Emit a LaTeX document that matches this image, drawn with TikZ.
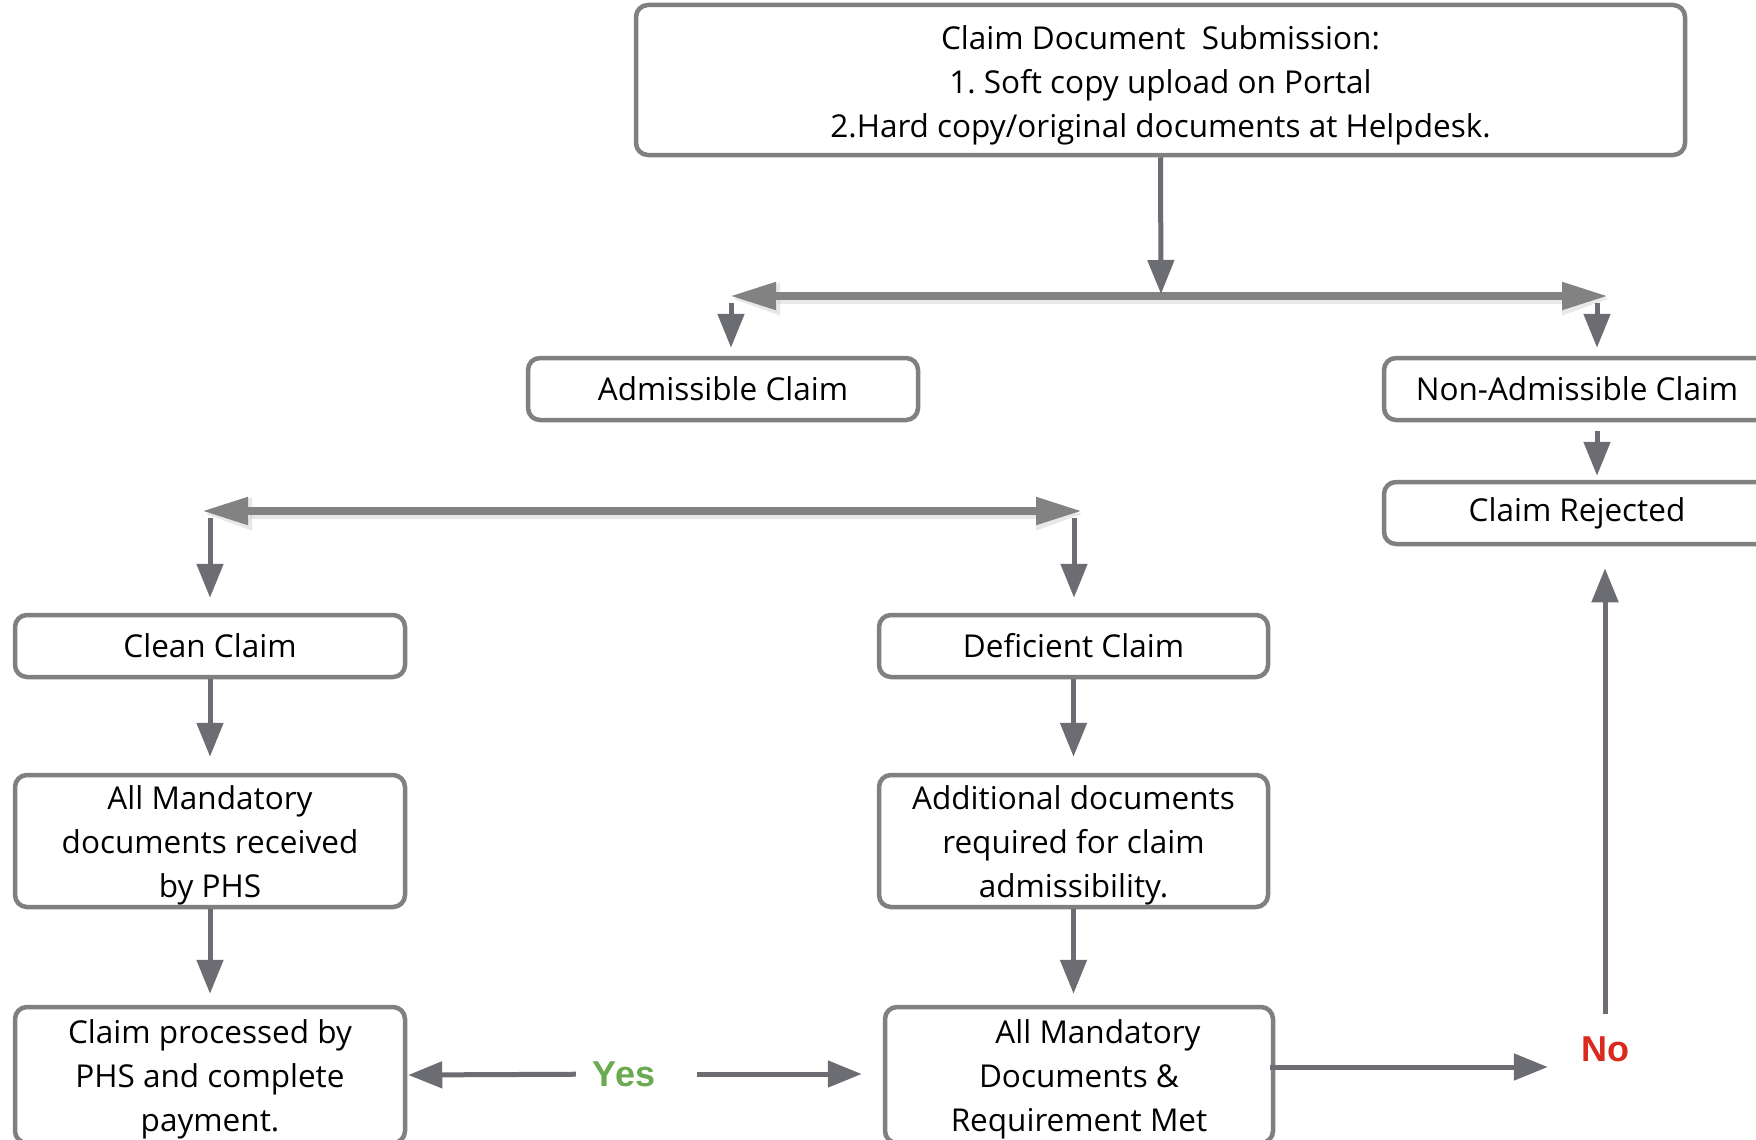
\documentclass[tikz,border=0pt]{standalone}
\usepackage{fontspec}
\setmainfont{Open Sans}
\newfontfamily\labelfont{Liberation Sans}
\usetikzlibrary{arrows.meta}
\definecolor{boxgray}{RGB}{128,128,128}
\definecolor{arrgray}{RGB}{108,109,114}
\definecolor{bargray}{RGB}{130,130,130}
\definecolor{yesgreen}{RGB}{106,170,80}
\definecolor{nored}{RGB}{218,42,30}
\newcommand{\mystrut}[1]{\rule{0pt}{#1}}
\begin{document}
\begin{tikzpicture}[x=1pt,y=-1pt,
  box/.style={draw=boxgray, line width=4.5pt, rounded corners=12pt, fill=white,
    align=center, inner sep=0pt, text=black,
    font=\fontsize{31.5pt}{44pt}\selectfont},
  conn/.style={draw=arrgray, line width=5pt, -{Triangle[width=26pt,length=34pt]}},
  bar/.style={draw=bargray, line width=8pt,
    {Triangle[width=26pt,length=46pt]}-{Triangle[width=26pt,length=46pt]}},
  barshadow/.style={draw=black!25, line width=10pt, opacity=0.35,
    {Triangle[width=30pt,length=48pt]}-{Triangle[width=30pt,length=48pt]}},
  lbl/.style={inner sep=0pt, font=\labelfont\bfseries\fontsize{36pt}{40pt}\selectfont}
]
\useasboundingbox (0,0) rectangle (1756,1140);
\clip (0,0) rectangle (1756,1140);
\fill[white] (0,0) rectangle (1756,1140);

% boxes
\node[box, minimum width=1049pt, minimum height=150pt] (top) at (1160.5,80)
  {\mystrut{34pt}Claim Document\ \ Submission:\\ 1.\ Soft copy upload on Portal\\ 2.Hard copy/original documents at Helpdesk.};
\node[box, minimum width=390pt, minimum height=62pt] (adm) at (723,389) {Admissible Claim};
\node[box, minimum width=386pt, minimum height=62pt] (nonadm) at (1577,389) {Non-Admissible Claim};
\node[box, minimum width=386pt, minimum height=62pt] (rejected) at (1577,513) {Claim Rejected};
\node[box, minimum width=390pt, minimum height=62pt] (clean) at (210,646) {Clean Claim};
\node[box, minimum width=389pt, minimum height=62pt] (deficient) at (1073.5,646) {Deficient Claim};
\node[box, minimum width=390pt, minimum height=132pt] (mand) at (210,841)
  {\mystrut{32pt}All Mandatory\\ documents received\\ by PHS};
\node[box, minimum width=389pt, minimum height=132pt] (addl) at (1073.5,841)
  {\mystrut{32pt}Additional documents\\ required for claim\\ admissibility.};
\node[box, minimum width=390pt, minimum height=136pt] (proc) at (210,1075)
  {\mystrut{32pt}Claim processed by\\ PHS and complete\\ payment.};
\node[box, minimum width=388pt, minimum height=136pt] (allmet) at (1079,1075)
  {\mystrut{32pt}\hspace*{38pt}All Mandatory\\ Documents \&\\ Requirement Met};

% labels
\node[lbl, text=yesgreen] (yes) at (624,1074) {Yes};
\node[lbl, text=nored] (no) at (1605,1049) {No};

% junction coordinates
\coordinate (b1l) at (730,296);
\coordinate (b1r) at (1608,296);
\coordinate (b1m) at (1161,296);
\coordinate (a1) at (731,303);
\coordinate (a2) at (1597,303);
\coordinate (b2l) at (202,511);
\coordinate (b2r) at (1082,511);
\coordinate (c1) at (210,518);
\coordinate (c2) at (1074,518);
\coordinate (s1l) at (732,299);
\coordinate (s1r) at (1610,299);
\coordinate (s2l) at (204,514);
\coordinate (s2r) at (1084,514);

% bars
\draw[barshadow] (s1l) -- (s1r);
\draw[barshadow] (s2l) -- (s2r);
\draw[bar] (b1l) -- (b1r);
\draw[bar] (b2l) -- (b2r);

% connectors
\draw[conn, shorten >=2pt] (top.south) -- (b1m);
\draw[conn, shorten >=8pt] (a1) -- (a1 |- adm.north);
\draw[conn, shorten >=8pt] (a2) -- (a2 |- nonadm.north);
\draw[conn, shorten <=9pt, shorten >=4pt] (a2 |- nonadm.south) -- (a2 |- rejected.north);
\draw[conn, shorten >=15pt] (c1) -- (clean.north);
\draw[conn, shorten >=15pt] (c2) -- (c2 |- deficient.north);
\draw[conn, shorten >=16pt] (clean.south) -- (mand.north);
\draw[conn, shorten >=16pt] (deficient.south) -- (addl.north);
\draw[conn, shorten >=11pt] (mand.south) -- (proc.north);
\draw[conn, shorten >=11pt] (addl.south) -- (addl.south |- allmet.north);
\draw[conn, shorten <=17pt, shorten >=1pt] (yes) -- (proc.east);
\draw[conn, shorten <=42pt, shorten >=21pt] (yes) -- (yes -| allmet.west);
\draw[conn, shorten >=33pt] ([xshift=-5pt,yshift=8pt]allmet.east) -- ([yshift=8pt]allmet.east -| no.west);
\draw[conn, shorten <=22pt, shorten >=22pt] (no) -- (no |- rejected.south);
\end{tikzpicture}
\end{document}
